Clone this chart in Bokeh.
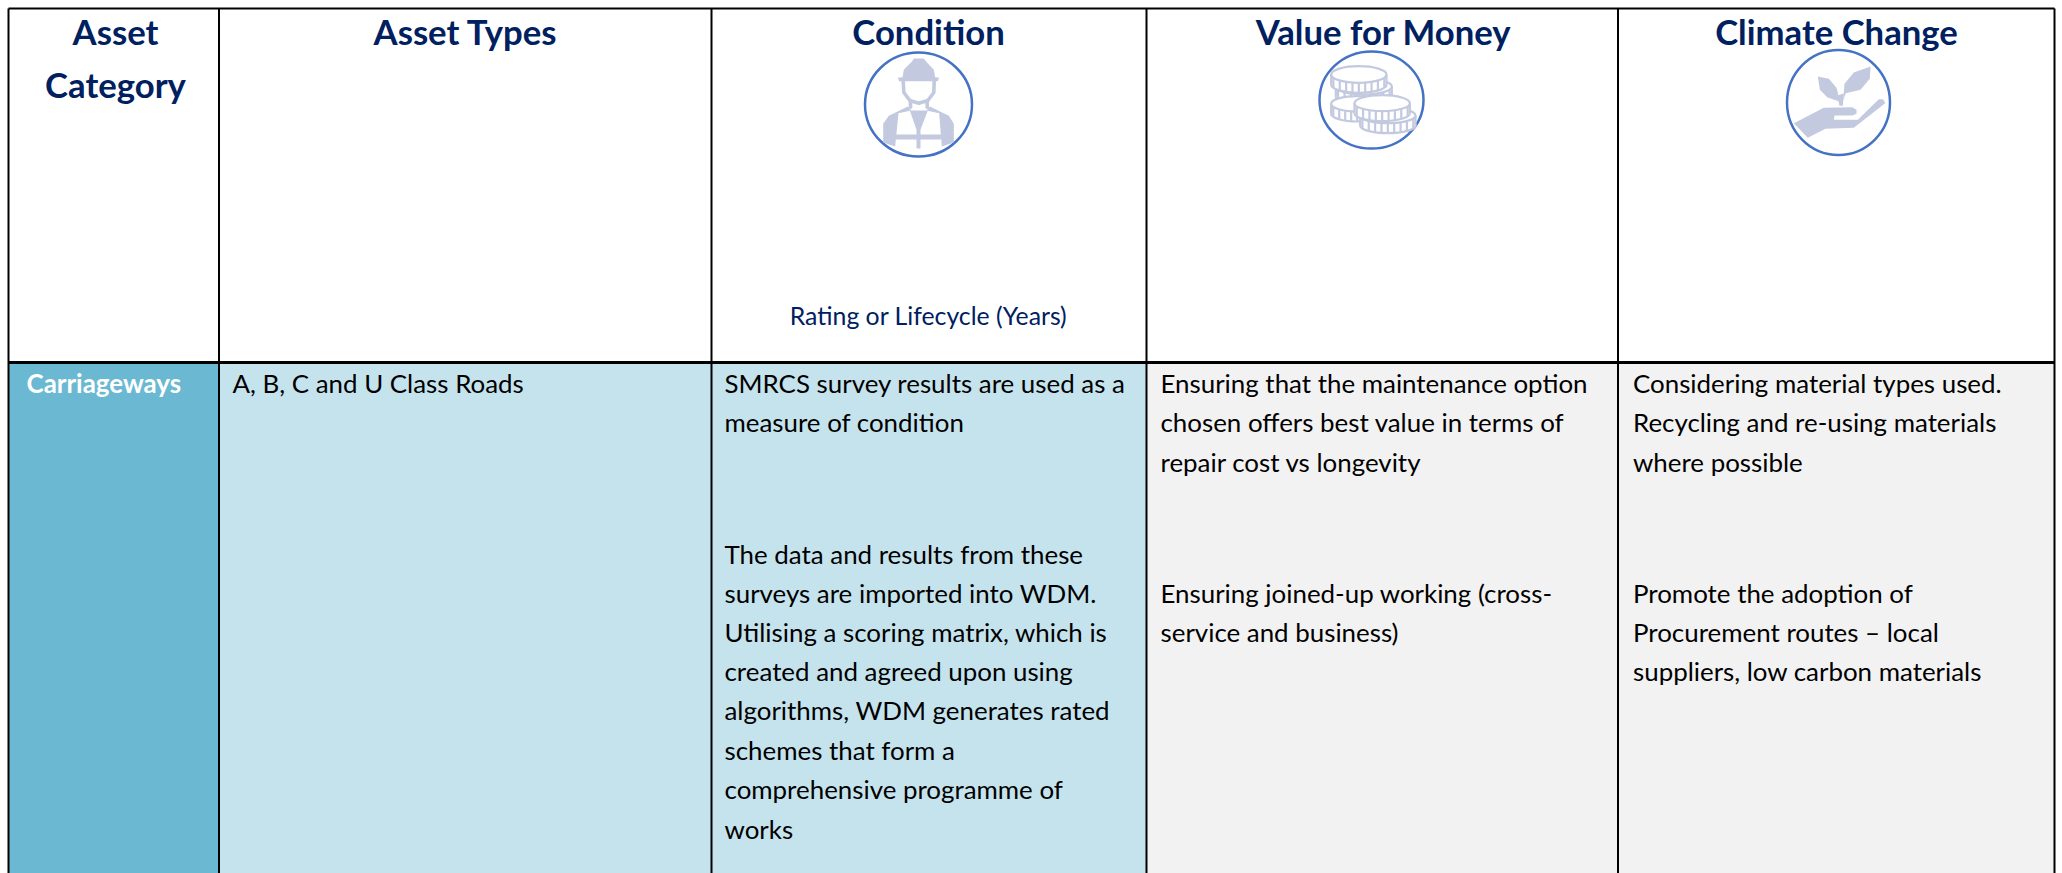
from bokeh.plotting import figure
from bokeh.models import Range1d
from bokeh.core.properties import value
from bokeh.embed import file_html
from bokeh.resources import INLINE
import numpy as np

W, H = 2062, 873
OX, OY = 0, 0

NAVY = "#002060"
FONT = "Lato"
BODY_SIZE = "25.9px"

column_edges = [8, 218.5, 711, 1146, 1617.5, 2054]
row_edges = [8, 362, 880]
column_fills = ["#6BB8D2", "#C5E3ED", "#C5E3ED", "#F2F2F2", "#F2F2F2"]

header_texts = ["Asset", "Category", "Asset Types", "Condition", "Value for Money", "Climate Change"]
header_x = [115, 115, 465, 928, 1383, 1836]
header_y = [31, 84, 31, 31, 31, 31]

subheader_text = ["Rating or Lifecycle (Years)"]
subheader_x = [928]
subheader_y = [315]

category_text = ["Carriageways"]
category_x = [26]
category_y = [382]

body_texts = [
    "A, B, C and U Class Roads",
    "SMRCS survey results are used as a",
    "measure of condition",
    "The data and results from these",
    "surveys are imported into WDM.",
    "Utilising a scoring matrix, which is",
    "created and agreed upon using",
    "algorithms, WDM generates rated",
    "schemes that form a",
    "comprehensive programme of",
    "works",
    "Ensuring that the maintenance option",
    "chosen offers best value in terms of",
    "repair cost vs longevity",
    "Ensuring joined-up working (cross-",
    "service and business)",
    "Considering material types used.",
    "Recycling and re-using materials",
    "where possible",
    "Promote the adoption of",
    "Procurement routes \u2013 local",
    "suppliers, low carbon materials",
]
body_x = [232] + [724] * 10 + [1160] * 5 + [1632.5] * 6
body_y = [382, 382, 421.5, 553, 592, 631, 670, 709, 749, 788, 828,
          382, 421.5, 461, 592, 631,
          382, 421.5, 461, 592, 631, 670]

p = figure(width=W, height=H, output_backend="svg", toolbar_location=None,
           x_range=Range1d(OX, OX + W), y_range=Range1d(OY + H, OY),
           min_border=0, background_fill_color="white", border_fill_color="white",
           outline_line_color=None)
p.axis.visible = False
p.grid.visible = False

# cell fills
p.quad(left=column_edges[:-1], right=column_edges[1:], top=[row_edges[1]] * 5,
       bottom=[row_edges[2]] * 5, fill_color=column_fills, line_color=None)

# icon rings
ICON = "#C3C9DF"
RING = "#4472C4"
p.ellipse(x=[918, 1371, 1838], y=[104, 99.5, 102], width=[107, 104, 103], height=[104, 97, 105],
          fill_color="white", line_color=RING, line_width=2.5)


def zx(ox, pts):
    return [ox + a / 3 for a, _ in pts]


def zy(oy, pts):
    return [oy + b / 3 for _, b in pts]


def shape(ox, oy, pts):
    p.patch(zx(ox, pts), zy(oy, pts), fill_color=ICON, line_color=None)


def stroke(ox, oy, pts, w=3.5, color=ICON):
    p.line(zx(ox, pts), zy(oy, pts), line_color=color, line_width=w, line_cap="round", line_join="round")


# worker icon
wx, wy = 820, 42
shape(wx, wy, [(246, 104), (250, 82), (275, 56), (280, 48), (310, 48), (316, 56), (340, 82), (344, 104),
               (356, 106), (352, 116), (236, 116), (232, 106)])
stroke(wx, wy, [(248, 116), (250, 150), (268, 174), (295, 182), (322, 174), (340, 150), (341, 116)], 3.6)
stroke(wx, wy, [(270, 176), (270, 194)], 3.6)
stroke(wx, wy, [(320, 176), (320, 194)], 3.6)
shape(wx, wy, [(188, 300), (188, 244), (205, 220), (262, 192), (272, 204), (234, 212), (224, 312)])
shape(wx, wy, [(400, 300), (400, 244), (385, 220), (328, 192), (318, 204), (356, 212), (364, 312)])
shape(wx, wy, [(268, 204), (322, 204), (300, 262), (300, 318), (288, 318), (288, 262)])
shape(wx, wy, [(226, 276), (362, 276), (362, 291), (226, 291)])

# coins icon
cx0, cy0 = 1300, 50


def coin(cx, cy, w, h, depth):
    ccx, ccy = cx0 + cx / 3, cy0 + cy / 3
    ww, hh, dd = w / 3, h / 3, depth / 3
    p.ellipse(x=[ccx], y=[ccy + dd], width=[ww], height=[hh], fill_color="white",
              line_color=ICON, line_width=2.2)
    p.quad(left=[ccx - ww / 2], right=[ccx + ww / 2], top=[ccy], bottom=[ccy + dd],
           fill_color="white", line_color=None)
    tick_x = np.linspace(-0.46, 0.46, 9)
    xs = [[ccx + t * ww] * 2 for t in tick_x] + [[ccx - ww / 2] * 2, [ccx + ww / 2] * 2]
    ys = [[ccy + hh / 2 * np.sqrt(1 - (2 * t) ** 2), ccy + dd + hh / 2 * np.sqrt(1 - (2 * t) ** 2)]
          for t in tick_x] + [[ccy, ccy + dd]] * 2
    p.multi_line(xs, ys, line_color=ICON, line_width=2.2)
    p.ellipse(x=[ccx], y=[ccy], width=[ww], height=[hh], fill_color="white",
              line_color=ICON, line_width=2.2)


coin(190, 108, 168, 48, 30)
coin(175, 72, 166, 50, 30)
coin(170, 160, 156, 46, 30)
coin(262, 195, 166, 46, 30)
coin(245, 158, 166, 48, 30)

# plant icon
hx, hy = 1770, 50
shape(hx, hy, [(142, 78), (175, 85), (198, 112), (208, 150), (204, 152), (170, 140), (148, 118)])
shape(hx, hy, [(300, 48), (298, 85), (270, 118), (226, 128), (218, 150), (222, 100), (250, 66)])
shape(hx, hy, [(200, 136), (207, 166), (217, 166), (220, 128)])
shape(hx, hy, [(70, 218), (160, 172), (245, 170), (258, 178), (258, 190), (245, 195), (192, 195),
               (190, 208), (262, 208), (325, 146), (338, 146), (344, 158), (250, 232), (165, 235), (112, 262)])

# grid lines
p.segment(x0=column_edges, x1=column_edges, y0=[row_edges[0]] * 6, y1=[row_edges[2]] * 6,
          line_color="black", line_width=2)
p.segment(x0=[column_edges[0], column_edges[0]], x1=[column_edges[-1], column_edges[-1]],
          y0=row_edges[:2], y1=row_edges[:2], line_color="black", line_width=[2, 3])

# texts
p.text(x=header_x, y=header_y, text=header_texts, text_font=value(FONT), text_font_size="34.7px",
       text_font_style="bold", text_color=NAVY, text_align="center", text_baseline="alphabetic")
p.text(x=subheader_x, y=subheader_y, text=subheader_text, text_font=value(FONT), text_font_size="24.8px",
       text_color=NAVY, text_align="center", text_baseline="alphabetic")
p.text(x=category_x, y=category_y, text=category_text, text_font=value(FONT), text_font_size=BODY_SIZE,
       text_font_style="bold", text_color="white", text_align="left", text_baseline="alphabetic")
p.text(x=body_x, y=body_y, text=body_texts, text_font=value(FONT), text_font_size=BODY_SIZE,
       text_color="black", text_align="left", text_baseline="alphabetic")

open("out.html", "w").write(file_html(p, INLINE))
